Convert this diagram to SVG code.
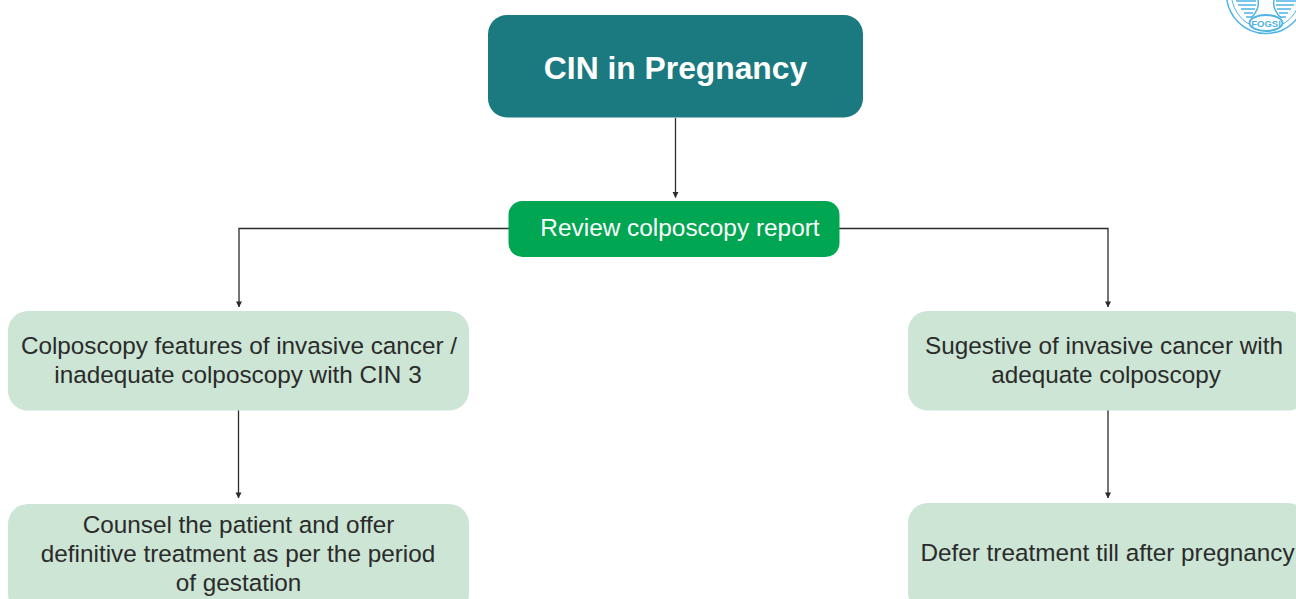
<svg xmlns="http://www.w3.org/2000/svg" width="1296" height="599" viewBox="0 0 1296 599">
<style>
text{font-family:"Liberation Sans",Arial,sans-serif;text-anchor:middle}
.l{font-size:24.300px;fill:#2b2b2b}
.box{fill:#cce5d4}
.c{fill:none;stroke:#2b2b2b;stroke-width:1.300}
.logo{fill:none;stroke:#4fb3e3}
</style>
<defs>
<marker id="a" markerUnits="userSpaceOnUse" markerWidth="6" markerHeight="9" refX="5.600" refY="3" viewBox="0 0 6 9" orient="auto"><path d="M0 0L6 3L0 6z" fill="#2b2b2b"/></marker>
</defs>
<g id="connectors">
<path class="c" d="M675.500 118V197.500" marker-end="url(#a)"/>
<path class="c" d="M509 228.500H239V307" marker-end="url(#a)"/>
<path class="c" d="M839 228.500H1108V307" marker-end="url(#a)"/>
<path class="c" d="M238.500 410V498" marker-end="url(#a)"/>
<path class="c" d="M1108 410V498" marker-end="url(#a)"/>
</g>
<g id="root"><rect x="488" y="15" width="375" height="102.500" rx="19" fill="#1a7a80"/><text x="675.500" y="79" font-size="31.800" font-weight="700" fill="#fff">CIN in Pregnancy</text></g>
<g id="review"><rect x="508.500" y="201" width="331" height="56" rx="14" fill="#00a651"/><text x="680" y="236" font-size="24.400" fill="#fff">Review colposcopy report</text></g>
<g id="left1"><rect class="box" x="8" y="311" width="461" height="99.500" rx="20"/><text class="l" x="239" y="354">Colposcopy features of invasive cancer /</text><text class="l" x="238" y="382.500">inadequate colposcopy with CIN 3</text></g>
<g id="right1"><rect class="box" x="908" y="311" width="400" height="99.500" rx="20"/><text class="l" x="1104" y="354">Sugestive of invasive cancer with</text><text class="l" x="1106" y="382.500">adequate colposcopy</text></g>
<g id="left2"><rect class="box" x="8" y="504" width="461" height="110" rx="20"/><text class="l" x="238.500" y="533">Counsel the patient and offer</text><text class="l" x="238" y="562">definitive treatment as per the period</text><text class="l" x="238.500" y="590.500">of gestation</text></g>
<g id="right2"><rect class="box" x="908" y="503" width="400" height="110" rx="20"/><text class="l" x="1107.500" y="560.500">Defer treatment till after pregnancy</text></g>
<g id="logo"><circle class="logo" cx="1266" cy="-6" r="39.500" stroke-width="1.500"/><circle class="logo" cx="1266" cy="-6" r="34.500" stroke-width="1"/><path class="logo" stroke-width="1.500" d="M1236 1H1256M1238 5H1256M1241 9H1255M1244 13H1253M1246 17H1252M1276 1H1296M1276 5H1294M1277 9H1291M1279 13H1288M1280 17H1286"/><path class="logo" stroke-width="1.500" d="M1258 0Q1260 9 1251 18M1274 0Q1272 9 1281 18"/><ellipse cx="1266" cy="23" rx="16.500" ry="8" fill="#fff" stroke="#4fb3e3" stroke-width="1.800"/><text x="1266" y="26.500" font-size="9.500" font-weight="700" fill="#4fb3e3">FOGSI</text></g>
</svg>
